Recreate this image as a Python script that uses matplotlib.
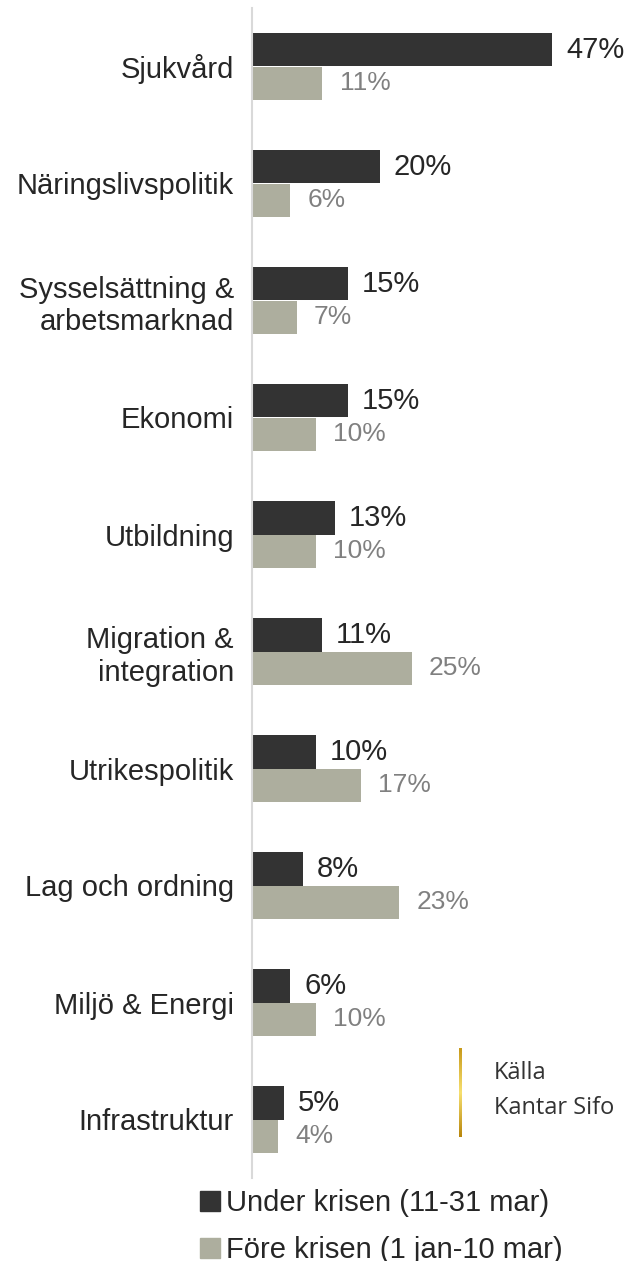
import matplotlib
matplotlib.use('Agg')
import matplotlib.pyplot as plt
import numpy as np
from matplotlib.patches import Patch
from matplotlib.colors import LinearSegmentedColormap

categories = ['Sjukvård', 'Näringslivspolitik', 'Sysselsättning &\narbetsmarknad',
              'Ekonomi', 'Utbildning', 'Migration &\nintegration', 'Utrikespolitik',
              'Lag och ordning', 'Miljö & Energi', 'Infrastruktur']
under = [47, 20, 15, 15, 13, 11, 10, 8, 6, 5]
fore = [11, 6, 7, 10, 10, 25, 17, 23, 10, 4]
series_names = ['Under krisen (11-31 mar)', 'Före krisen (1 jan-10 mar)']

dark = '#333333'
light = '#adae9e'
narrow = ['Liberation Sans Narrow', 'Liberation Sans', 'DejaVu Sans']
plt.rcParams['font.family'] = narrow

W, H = 637, 1261
fig = plt.figure(figsize=(W / 100, H / 100), dpi=100)
ax = fig.add_axes([252 / W, 1 - 1178 / H, (W - 252) / W, 1170 / H])

y = np.arange(len(categories))
h = 0.29
ax.barh(y - h / 2, under, height=h, color=dark)
ax.barh(y + h / 2, fore, height=h, color=light)

for i in range(len(categories)):
    ax.annotate(f'{under[i]}%', (under[i], y[i] - h / 2), xytext=(10, 0),
                textcoords='offset points', va='center', ha='left',
                fontsize=21, color='#262626')
    ax.annotate(f'{fore[i]}%', (fore[i], y[i] + h / 2), xytext=(12.5, 0),
                textcoords='offset points', va='center', ha='left',
                fontsize=19, color='#808080')

ax.set_xlim(0, 60.3)
ax.set_ylim(9.5, -0.5)
ax.set_yticks(y)
ax.set_yticklabels(categories, fontsize=21, color='#262626', ha='right')
ax.tick_params(axis='y', length=0, pad=13)
ax.set_xticks([])
for s in ['top', 'right', 'bottom']:
    ax.spines[s].set_visible(False)
ax.spines['left'].set_color('#d9d9d9')
ax.spines['left'].set_linewidth(1.5)

# source note with gold bar
gold = LinearSegmentedColormap.from_list('gold', ['#c89a1a', '#f7e070', '#b8860b'])
lax = fig.add_axes([459 / W, 1 - 1137 / H, 3 / W, 89 / H])
lax.imshow(np.linspace(0, 1, 100).reshape(-1, 1), aspect='auto', cmap=gold)
lax.axis('off')
fig.text(494 / W, 1 - 1073 / H, 'Källa', fontsize=17, color='#333333',
         family='Open Sans', va='center', ha='left')
fig.text(494 / W, 1 - 1108 / H, 'Kantar Sifo', fontsize=17, color='#333333',
         family='Open Sans', va='center', ha='left')

handles = [Patch(color=dark), Patch(color=light)]
fig.legend(handles, series_names, loc='upper left', bbox_to_anchor=(200 / W, 1 - 1189 / H),
           frameon=False, fontsize=21, handlelength=0.7, handleheight=0.7,
           handletextpad=0.2, labelspacing=0.65, borderaxespad=0, borderpad=0,
           labelcolor='#262626')

fig.savefig('out.png', dpi=100)
